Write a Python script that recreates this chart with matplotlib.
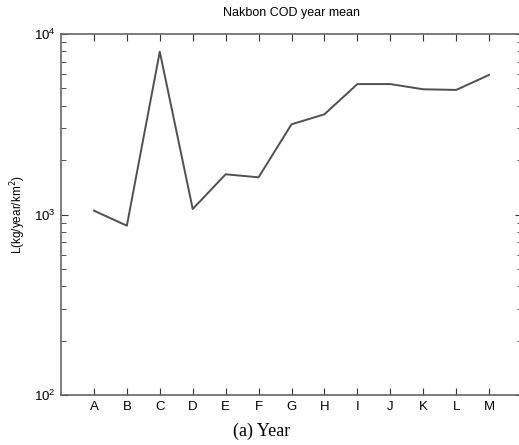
import matplotlib
matplotlib.use("Agg")
import matplotlib.pyplot as plt

years = ["A", "B", "C", "D", "E", "F", "G", "H", "I", "J", "K", "L", "M"]
cod_mean = [1050, 867, 7980, 1073, 1670, 1607, 3160, 3590, 5280, 5280, 4940, 4900, 5930]

plt.rcParams["font.family"] = ["Liberation Sans", "DejaVu Sans"]

fig = plt.figure(figsize=(5.19, 4.45), dpi=100)
ax = fig.add_axes([61 / 519, 1 - 395 / 445, 461 / 519, 361 / 445])

xs = list(range(1, len(years) + 1))
ax.plot(xs, cod_mean, color="#505050", lw=1.4)

ax.set_yscale("log")
ax.set_ylim(1e2, 1e4)
ax.set_xlim(0, 14)
ax.set_xticks(xs)
ax.set_xticklabels(years)
ax.tick_params(which="both", direction="in", top=True, right=True,
               labelsize=9.5, color="#333333", pad=4)
ax.tick_params(which="major", length=5)
ax.tick_params(which="minor", length=3.5)
for s in ax.spines.values():
    s.set_color("#666666")
    s.set_linewidth(1.2)

ax.set_title("Nakbon COD year mean", fontsize=9, pad=13)
ax.set_ylabel("L(kg/year/km$^2$)", fontsize=8.5, labelpad=4)

fig.text(262 / 519, 1 - 431 / 445, "(a) Year", ha="center", va="center",
         fontsize=13, family=["Liberation Serif", "DejaVu Serif"])

fig.savefig("out.png", dpi=100)
